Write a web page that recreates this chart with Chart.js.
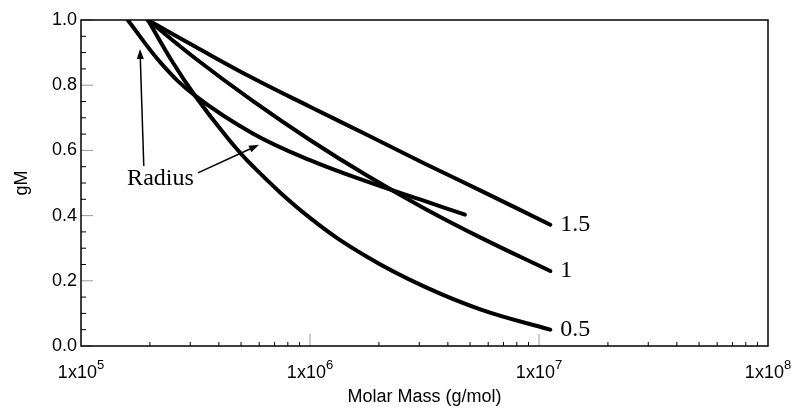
<!DOCTYPE html>
<html>
<head>
<meta charset="utf-8">
<script src="https://cdn.jsdelivr.net/npm/chart.js@4.4.1/dist/chart.umd.min.js"></script>
<style>
  body { margin: 0; background: #fff; }
</style>
</head>
<body>
<canvas id="chart" width="801" height="409"></canvas>
<script>
// values
const radiusMass = [1.60e5, 2.24e5, 3.16e5, 5.62e5, 1.0e6, 1.78e6, 3.16e6, 4.75e6];
const radiusG = [1.0, 0.867, 0.767, 0.652, 0.57, 0.504, 0.445, 0.403];

const mass05 = [1.96e5, 2.51e5, 3.16e5, 4.22e5, 5.62e5, 1.0e6, 1.78e6, 3.16e6, 5.62e6, 1.12e7];
const g05 = [1.0, 0.871, 0.766, 0.651, 0.552, 0.393, 0.273, 0.182, 0.111, 0.05];

const mass1 = [1.96e5, 3.16e5, 5.62e5, 1.0e6, 1.78e6, 3.16e6, 5.62e6, 1.12e7];
const g1 = [1.0, 0.882, 0.752, 0.632, 0.522, 0.422, 0.331, 0.23];

const mass15 = [1.96e5, 3.16e5, 5.62e5, 1.0e6, 1.78e6, 3.16e6, 5.62e6, 1.12e7];
const g15 = [1.0, 0.918, 0.822, 0.734, 0.647, 0.56, 0.475, 0.372];

const curveLabels = ['0.5', '1', '1.5'];
const xTickValues = [1e5, 1e6, 1e7, 1e8];
const xTickExp = ['5', '6', '7', '8'];

const sans = '"Liberation Sans", Arial, sans-serif';

const pts = (xs, ys) => xs.map((x, i) => ({ x: x, y: ys[i] }));

const line = (data) => ({
    data: data,
    borderColor: '#000',
    borderWidth: 4,
    borderCapStyle: 'round',
    borderJoinStyle: 'round',
    pointRadius: 0,
    fill: false,
    tension: 0.4
});

// frame, inward ticks, x labels with exponents and the text / arrow notes
const decor = {
    id: 'decor',
    afterDraw(chart) {
        const ctx = chart.ctx;
        const a = chart.chartArea;
        const xs = chart.scales.x;
        const ys = chart.scales.y;
        ctx.save();

        // y ticks
        ctx.lineWidth = 1;
        for (let k = 0; k <= 20; k++) {
            let py = ys.getPixelForValue(k * 0.05);
            let major = k % 4 === 0;
            ctx.strokeStyle = major ? '#999' : '#000';
            ctx.beginPath(); ctx.moveTo(a.left, py); ctx.lineTo(a.left + (major ? 12 : 5), py); ctx.stroke();
        }
        // x ticks
        for (let d = 5; d <= 7; d++) {
            for (let m = 1; m <= 9; m++) {
                if (m === 1 && d === 5) continue;
                let px = xs.getPixelForValue(m * Math.pow(10, d));
                let major = m === 1;
                ctx.strokeStyle = major ? '#999' : '#000';
                ctx.beginPath(); ctx.moveTo(px, a.bottom); ctx.lineTo(px, a.bottom - (major ? 12 : 4)); ctx.stroke();
            }
        }

        // frame
        ctx.strokeStyle = '#000';
        ctx.lineWidth = 1.5;
        ctx.strokeRect(a.left, a.top, a.right - a.left, a.bottom - a.top);

        // x tick labels: 1x10 with a raised exponent
        ctx.fillStyle = '#000';
        ctx.textBaseline = 'alphabetic';
        ctx.textAlign = 'left';
        xTickValues.forEach((v, i) => {
            let px = xs.getPixelForValue(v);
            ctx.font = '18px ' + sans;
            let wb = ctx.measureText('1x10').width;
            ctx.font = '13px ' + sans;
            let we = ctx.measureText(xTickExp[i]).width;
            let x0 = px - (wb + we) / 2;
            let base = a.bottom + 32;
            ctx.font = '18px ' + sans;
            ctx.fillText('1x10', x0, base);
            ctx.font = '13px ' + sans;
            ctx.fillText(xTickExp[i], x0 + wb, base - 9);
        });

        // curve end labels
        ctx.font = '24px "Liberation Serif", serif';
        ctx.textBaseline = 'middle';
        [1, 2, 3].forEach((di, i) => {
            let d = chart.data.datasets[di].data;
            let last = d[d.length - 1];
            ctx.fillText(curveLabels[i], xs.getPixelForValue(last.x) + 10, ys.getPixelForValue(last.y));
        });
        ctx.fillText('Radius', xs.getPixelForValue(1.59e5), ys.getPixelForValue(0.512));

        // arrows pointing at the radius curve
        const arrows = [
            [1.88e5, 0.552, 1.81e5, 0.911],
            [3.24e5, 0.531, 5.99e5, 0.617]
        ];
        ctx.lineWidth = 1.5;
        arrows.forEach(ar => {
            let x0 = xs.getPixelForValue(ar[0]), y0 = ys.getPixelForValue(ar[1]);
            let x1 = xs.getPixelForValue(ar[2]), y1 = ys.getPixelForValue(ar[3]);
            let ang = Math.atan2(y1 - y0, x1 - x0);
            let hl = 10, hw = 3.5;
            let bx = x1 - hl * Math.cos(ang), by = y1 - hl * Math.sin(ang);
            ctx.beginPath(); ctx.moveTo(x0, y0); ctx.lineTo(bx, by); ctx.stroke();
            ctx.beginPath();
            ctx.moveTo(x1, y1);
            ctx.lineTo(bx + hw * Math.sin(ang), by - hw * Math.cos(ang));
            ctx.lineTo(bx - hw * Math.sin(ang), by + hw * Math.cos(ang));
            ctx.closePath();
            ctx.fill();
        });
        ctx.restore();
    }
};

const config = {
    type: 'line',
    data: {
        datasets: [
            line(pts(radiusMass, radiusG)),
            line(pts(mass05, g05)),
            line(pts(mass1, g1)),
            line(pts(mass15, g15))
        ]
    },
    options: {
        responsive: false,
        animation: false,
        layout: { padding: { left: 0, top: 20, right: 33, bottom: 0 } },
        plugins: {
            legend: { display: false },
            tooltip: { enabled: false }
        },
        scales: {
            x: {
                type: 'logarithmic',
                min: 1e5,
                max: 1e8,
                grid: { display: false, drawTicks: false },
                border: { display: false },
                afterBuildTicks: (scale) => {
                    scale.ticks = xTickValues.map(v => ({ value: v }));
                },
                afterFit: (scale) => { scale.height = 63; },
                ticks: { display: false },
                title: {
                    display: true,
                    text: 'Molar Mass (g/mol)',
                    color: '#000',
                    padding: { top: 0, bottom: 1 },
                    font: { family: sans, size: 18 }
                }
            },
            y: {
                min: 0,
                max: 1,
                grid: { display: false, drawTicks: false },
                border: { display: false },
                afterFit: (scale) => { scale.width = 81; },
                ticks: {
                    stepSize: 0.2,
                    padding: 4,
                    color: '#000',
                    font: { family: sans, size: 18 },
                    callback: (value) => value.toFixed(1)
                },
                title: {
                    display: true,
                    text: 'gM',
                    color: '#000',
                    padding: { top: 11, bottom: 0 },
                    font: { family: sans, size: 18 }
                }
            }
        }
    },
    plugins: [decor]
};

const mychart = new Chart(document.getElementById('chart'), config);
</script>
</body>
</html>
